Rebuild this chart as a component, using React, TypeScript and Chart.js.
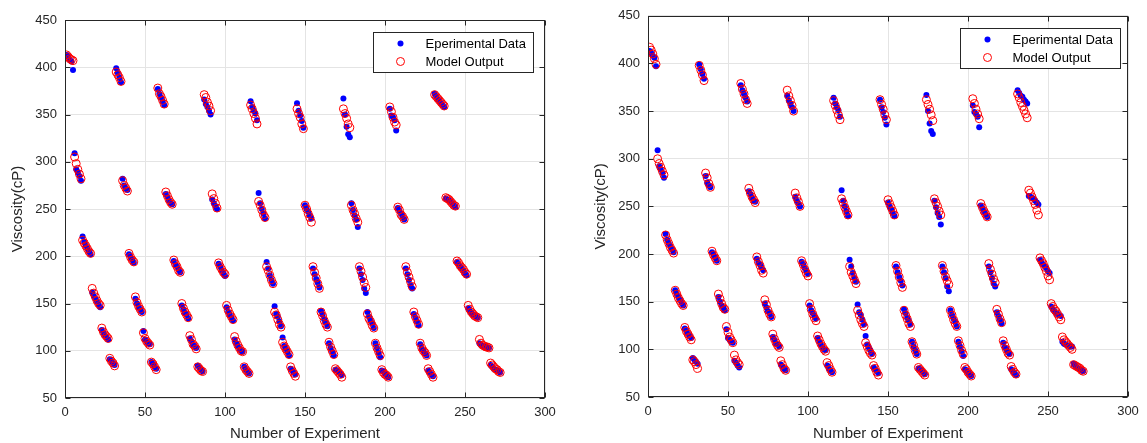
import { useEffect, useRef } from "react";
import { Chart, registerables } from "chart.js";

Chart.register(...registerables);
Chart.defaults.font.family = '"Liberation Sans", Arial, Helvetica, sans-serif';

// Measured viscosity (cP) for experiments 1..272, one line per sweep
const measuredViscosity: number[] = [
  413, 411, 408, 406, 397, 309, 292, 289, 285, 280, 221, 215, 211, 208, 205, 202, 162, 158, 155, 152, 149, 146, 122, 119, 116, 114, 112, 91, 89, 87, 85,
  399, 394, 389, 384, 282, 275, 272, 270, 202, 199, 196, 193, 155, 150, 146, 144, 141, 121, 112, 110, 108, 107, 88, 86, 83, 81,
  377, 372, 368, 364, 360, 266, 263, 259, 256, 255, 195, 191, 189, 186, 183, 148, 144, 140, 138, 134, 113, 110, 106, 105, 103, 84, 82, 80, 78,
  366, 361, 358, 354, 350, 260, 256, 253, 250, 192, 189, 185, 182, 179, 146, 141, 138, 135, 132, 112, 108, 105, 102, 100, 99, 83, 80, 78, 76,
  364, 358, 354, 351, 344, 267, 256, 250, 245, 240, 194, 187, 180, 175, 171, 147, 139, 136, 131, 126, 114, 105, 102, 99, 95, 81, 79, 77, 75,
  362, 354, 349, 343, 336, 254, 250, 247, 243, 240, 187, 181, 176, 172, 167, 142, 138, 133, 130, 126, 108, 103, 99, 95, 80, 79, 78, 76, 74,
  367, 350, 337, 329, 326, 256, 249, 243, 239, 231, 187, 181, 175, 166, 161, 141, 136, 132, 129, 124, 108, 103, 98, 93, 79, 78, 76, 74, 72,
  356, 349, 347, 344, 333, 251, 248, 245, 242, 239, 187, 181, 175, 169, 166, 139, 135, 131, 127, 107, 102, 100, 97, 95, 79, 77, 75, 73,
  372, 369, 366, 365, 362, 360, 358, 261, 260, 259, 258, 256, 254, 252, 194, 191, 189, 187, 185, 182, 180, 145, 142, 140, 138, 137, 136, 135, 108, 106, 105, 104, 104, 103, 103, 85, 83, 81, 80, 79, 78, 77,
];

// Model output of the first model (left panel)
const modelOutputLeft: number[] = [
  413, 411, 409, 408, 407, 305, 298, 292, 287, 282, 217, 214, 211, 208, 205, 203, 166, 161, 157, 153, 150, 148, 124, 120, 117, 115, 113, 92, 89, 87, 84,
  395, 392, 389, 385, 280, 275, 272, 269, 203, 199, 196, 194, 157, 151, 147, 144, 141, 119, 113, 110, 108, 106, 88, 86, 83, 80,
  378, 372, 369, 365, 361, 268, 264, 260, 257, 255, 196, 192, 189, 185, 183, 150, 145, 141, 138, 135, 116, 112, 107, 105, 102, 83, 81, 79, 78,
  371, 368, 363, 359, 354, 266, 261, 256, 251, 193, 189, 186, 183, 181, 148, 143, 139, 136, 133, 115, 110, 106, 103, 100, 99, 83, 80, 78, 76,
  360, 356, 351, 346, 340, 258, 254, 249, 244, 241, 189, 185, 180, 175, 171, 141, 138, 133, 128, 125, 109, 105, 102, 99, 96, 83, 79, 76, 73,
  356, 351, 347, 340, 335, 254, 250, 245, 241, 236, 189, 183, 177, 171, 166, 141, 137, 132, 128, 125, 109, 104, 100, 96, 81, 79, 77, 75, 72,
  356, 351, 346, 340, 336, 254, 249, 245, 240, 236, 189, 184, 178, 172, 167, 139, 134, 131, 127, 124, 108, 103, 99, 95, 80, 77, 75, 74, 72,
  358, 353, 347, 342, 339, 252, 249, 244, 242, 239, 189, 183, 178, 173, 168, 141, 136, 132, 128, 108, 103, 100, 98, 95, 81, 78, 75, 72,
  371, 369, 367, 365, 363, 361, 359, 262, 261, 260, 258, 256, 254, 253, 195, 193, 190, 188, 186, 183, 181, 148, 144, 141, 139, 137, 136, 135, 112, 108, 106, 105, 104, 104, 103, 87, 85, 83, 81, 80, 78, 77,
];

// Model output of the second model (right panel)
const modelOutputRight: number[] = [
  417, 414, 410, 405, 399, 300, 295, 291, 287, 283, 220, 215, 211, 207, 204, 201, 162, 158, 154, 151, 148, 146, 123, 119, 116, 113, 110, 89, 87, 84, 80,
  398, 393, 388, 382, 285, 280, 274, 270, 203, 199, 196, 193, 158, 153, 148, 144, 142, 124, 118, 113, 110, 107, 94, 89, 86, 84,
  379, 373, 368, 362, 358, 269, 264, 260, 257, 254, 197, 192, 188, 183, 180, 152, 147, 141, 137, 134, 116, 111, 107, 104, 102, 88, 84, 80, 78,
  372, 366, 361, 356, 350, 264, 259, 255, 250, 193, 189, 184, 180, 177, 148, 142, 137, 133, 130, 114, 110, 106, 103, 100, 98, 86, 83, 79, 76,
  361, 356, 351, 346, 341, 258, 254, 249, 245, 241, 187, 181, 177, 173, 169, 141, 136, 131, 127, 124, 107, 103, 99, 96, 94, 83, 80, 76, 73,
  362, 357, 352, 346, 341, 257, 253, 249, 245, 241, 188, 182, 176, 170, 165, 141, 136, 132, 127, 124, 108, 104, 99, 95, 81, 79, 77, 75, 73,
  362, 357, 352, 346, 340, 258, 254, 250, 245, 241, 188, 182, 176, 172, 168, 141, 136, 131, 127, 124, 109, 104, 99, 95, 81, 79, 76, 74, 72,
  363, 358, 352, 347, 342, 253, 249, 245, 242, 239, 190, 184, 179, 174, 170, 142, 137, 132, 128, 109, 104, 100, 96, 94, 82, 79, 76, 74,
  368, 364, 359, 355, 351, 347, 343, 267, 264, 260, 256, 252, 246, 241, 196, 193, 190, 186, 182, 177, 173, 148, 145, 142, 140, 137, 134, 131, 113, 110, 108, 106, 104, 102, 100, 84, 83, 82, 81, 80, 78, 77,
];

const seriesLabels = ["Eperimental Data", "Model Output"];
const xAxisTitle = "Number of Experiment";
const yAxisTitle = "Viscosity(cP)";
const xRange = [0, 300];
const yRange = [50, 450];
const tickStep = 50;

const FRAME = "#262626";
const GRID = "#e4e4e4";
const BLUE = "#0000ff";
const RED = "#ff0000";

// Axes box with inward tick marks and the boxed legend inside the plot
const frameLegendPlugin = {
  id: "frameLegend",
  afterDraw(chart: any, _args: any, opts: any) {
    const { ctx, chartArea: a, scales } = chart;
    const L = Math.round(a.left) + 0.5;
    const R = Math.round(a.right) - 0.5;
    const T = Math.round(a.top) + 0.5;
    const B = Math.round(a.bottom) - 0.5;
    ctx.save();
    ctx.strokeStyle = FRAME;
    ctx.lineWidth = 1;
    ctx.strokeRect(L, T, R - L, B - T);
    const len = 5;
    ctx.beginPath();
    scales.x.ticks.forEach((t: any) => {
      const px = Math.round(scales.x.getPixelForValue(t.value)) + 0.5;
      ctx.moveTo(px, B);
      ctx.lineTo(px, B - len);
      ctx.moveTo(px, T);
      ctx.lineTo(px, T + len);
    });
    scales.y.ticks.forEach((t: any) => {
      const py = Math.round(scales.y.getPixelForValue(t.value)) + 0.5;
      ctx.moveTo(L, py);
      ctx.lineTo(L + len, py);
      ctx.moveTo(R, py);
      ctx.lineTo(R - len, py);
    });
    ctx.stroke();

    // legend
    const bx = Math.round(a.left + opts.dx) + 0.5;
    const by = Math.round(a.top + opts.dy) + 0.5;
    ctx.fillStyle = "#ffffff";
    ctx.fillRect(bx, by, opts.w, opts.h);
    ctx.strokeStyle = FRAME;
    ctx.strokeRect(bx, by, opts.w, opts.h);
    const ds = chart.data.datasets;
    const rows = [by + 11, by + 29];
    ctx.font = '13px "Liberation Sans", Arial, sans-serif';
    ctx.textBaseline = "middle";
    ctx.textAlign = "left";
    ds.forEach((d: any, i: number) => {
      const cy = rows[i];
      const cx = bx + 27;
      ctx.beginPath();
      ctx.arc(cx, cy, d.pointRadius, 0, Math.PI * 2);
      if (d.pointBorderWidth > 0) {
        ctx.strokeStyle = d.pointBorderColor;
        ctx.lineWidth = d.pointBorderWidth;
        ctx.stroke();
      } else {
        ctx.fillStyle = d.pointBackgroundColor;
        ctx.fill();
      }
      ctx.fillStyle = "#000000";
      ctx.fillText(d.label, bx + 52, cy + 1);
    });
    ctx.restore();
  },
};

type PanelProps = {
  model: number[];
  left: number;
  width: number;
  yAxisWidth: number;
  xAxisHeight: number;
  padTop: number;
  padRight: number;
  yTitlePad: number;
  legendDx: number;
};

function ViscosityPanel(p: PanelProps) {
  const ref = useRef<HTMLCanvasElement>(null);
  useEffect(() => {
    const toPoints = (arr: number[]) => arr.map((v, i) => ({ x: i + 1, y: v }));
    const chart = new Chart(ref.current as HTMLCanvasElement, {
      type: "scatter",
      data: {
        datasets: [
          {
            label: seriesLabels[0],
            data: toPoints(measuredViscosity),
            pointRadius: 3,
            pointBackgroundColor: BLUE,
            pointBorderWidth: 0,
            pointBorderColor: BLUE,
            order: 1,
          } as any,
          {
            label: seriesLabels[1],
            data: toPoints(p.model),
            pointRadius: 4,
            pointBackgroundColor: "rgba(0,0,0,0)",
            pointBorderColor: RED,
            pointBorderWidth: 1,
            order: 0,
          } as any,
        ],
      },
      options: {
        animation: false,
        responsive: false,
        events: [],
        layout: { padding: { left: 0, right: p.padRight, top: p.padTop, bottom: 0 } },
        plugins: {
          legend: { display: false },
          tooltip: { enabled: false },
          frameLegend: { dx: p.legendDx, dy: 12, w: 160, h: 40 },
        } as any,
        scales: {
          x: {
            type: "linear",
            min: xRange[0],
            max: xRange[1],
            ticks: { stepSize: tickStep, padding: 7, color: FRAME, font: { size: 13 } },
            grid: { color: GRID, drawTicks: false },
            border: { display: false },
            title: {
              display: true,
              text: xAxisTitle,
              color: FRAME,
              font: { size: 15 },
              padding: { top: 0, bottom: 0 },
            },
            afterFit: (s: any) => {
              s.height = p.xAxisHeight;
            },
          },
          y: {
            type: "linear",
            min: yRange[0],
            max: yRange[1],
            ticks: { stepSize: tickStep, padding: 8, color: FRAME, font: { size: 13 } },
            grid: { color: GRID, drawTicks: false },
            border: { display: false },
            title: {
              display: true,
              text: yAxisTitle,
              color: FRAME,
              font: { size: 15 },
              padding: { top: p.yTitlePad, bottom: 0 },
            },
            afterFit: (s: any) => {
              s.width = p.yAxisWidth;
            },
          },
        },
      },
      plugins: [frameLegendPlugin],
    });
    return () => chart.destroy();
  }, []);
  return (
    <canvas
      ref={ref}
      width={p.width}
      height={443}
      style={{ position: "absolute", left: p.left, top: 0, width: p.width, height: 443 }}
    />
  );
}

export default function App() {
  return (
    <div
      style={{
        position: "fixed",
        left: 0,
        top: 0,
        width: 1147,
        height: 443,
        background: "#ffffff",
        overflow: "hidden",
      }}
    >
      <ViscosityPanel
        model={modelOutputLeft}
        left={0}
        width={573}
        yAxisWidth={65}
        xAxisHeight={45}
        padTop={20}
        padRight={28}
        yTitlePad={9}
        legendDx={308}
      />
      <ViscosityPanel
        model={modelOutputRight}
        left={573}
        width={574}
        yAxisWidth={75}
        xAxisHeight={46}
        padTop={13}
        padRight={19}
        yTitlePad={19}
        legendDx={312}
      />
    </div>
  );
}
